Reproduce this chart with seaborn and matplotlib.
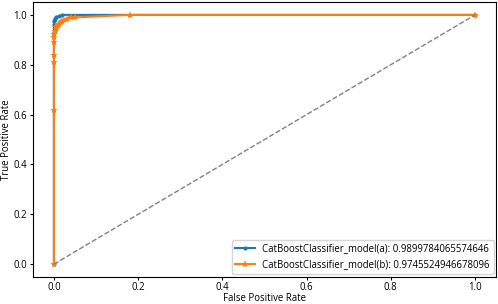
import matplotlib
matplotlib.use("Agg")
import matplotlib.pyplot as plt
import seaborn as sns

# curvas ROC
fpr_a = [0.0, 0.0, 0.0, 0.0, 0.002, 0.004, 0.012, 0.02, 1.0]
tpr_a = [0.0, 0.93, 0.96, 0.975, 0.985, 0.99, 0.995, 1.0, 1.0]

fpr_b = [0.0, 0.0, 0.0, 0.0, 0.0, 0.0, 0.0, 0.002, 0.004, 0.006, 0.008, 0.01,
         0.013, 0.016, 0.02, 0.025, 0.03, 0.04, 0.05, 0.18, 1.0]
tpr_b = [0.0, 0.62, 0.81, 0.84, 0.89, 0.91, 0.925, 0.935, 0.945, 0.95, 0.955,
         0.96, 0.965, 0.97, 0.975, 0.98, 0.985, 0.99, 0.99, 1.0, 1.0]

label_a = "CatBoostClassifier_model(a): 0.9899784065574646"
label_b = "CatBoostClassifier_model(b): 0.9745524946678096"

plt.rcParams["font.family"] = ["Open Sans", "DejaVu Sans"]
plt.rcParams["font.size"] = 6.9
plt.rcParams["xtick.major.size"] = 2.5
plt.rcParams["ytick.major.size"] = 2.5
plt.rcParams["xtick.major.pad"] = 1.5
plt.rcParams["ytick.major.pad"] = 1.8
fig, ax = plt.subplots(figsize=(4.98, 3.04), dpi=100)

sns.lineplot(x=fpr_a, y=tpr_a, marker=".", markersize=6, color="#1f77b4",
             label=label_a, sort=False, estimator=None, ax=ax, markeredgewidth=0)
sns.lineplot(x=fpr_b, y=tpr_b, marker="*", markersize=6, color="#ff7f0e",
             label=label_b, sort=False, estimator=None, ax=ax, markeredgewidth=0)
ax.plot([0, 1], [0, 1], linestyle="--", color="gray", linewidth=1)

ax.set_xlabel("False Positive Rate", labelpad=0)
ax.set_ylabel("True Positive Rate", labelpad=1)
ax.legend(loc="lower right", borderaxespad=0.25)

fig.subplots_adjust(left=0.066, right=0.996, top=0.992, bottom=0.09)
fig.savefig("out.png", dpi=100)
